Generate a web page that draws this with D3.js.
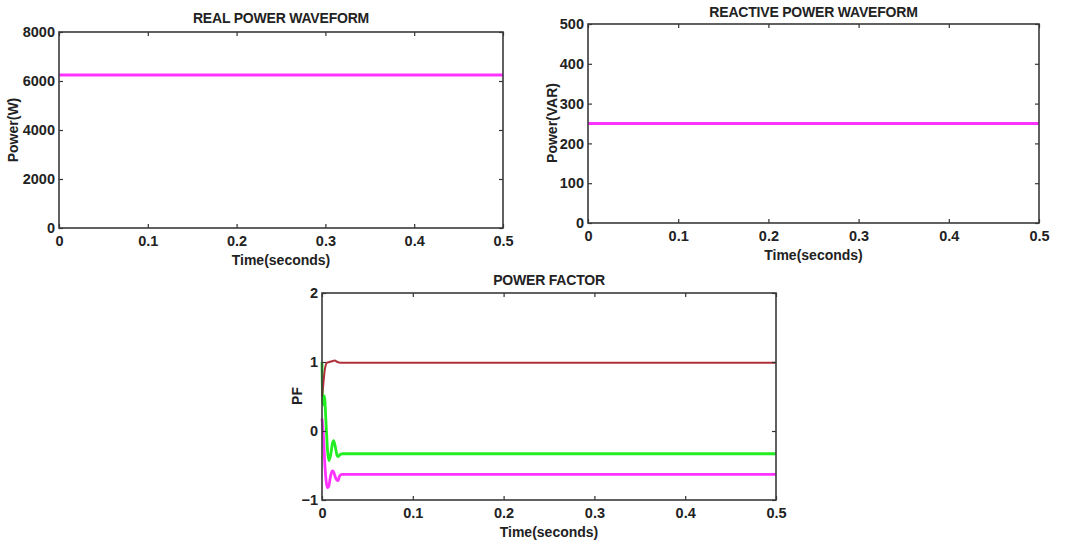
<!DOCTYPE html>
<html>
<head>
  <meta charset="utf-8">
  <title>Power waveforms</title>
  <style>
    body { margin: 0; background: #fff; }
    svg text { font-family: "Liberation Sans", Arial, sans-serif; font-weight: bold; fill: #222; }
  </style>
</head>
<body>
  <script src="https://d3js.org/d3.v7.min.js"></script>
  <script>
    // ---- data ----
    var realTime = [0, 0.5];
    var realPower = [6250, 6250];

    var reactiveTime = [0, 0.5];
    var reactivePower = [250, 250];

    // power factor traces (three phases)
    var pfRedTime = [0, 0.001, 0.003, 0.0055, 0.008, 0.011, 0.014, 0.017, 0.02, 0.5];
    var pfRed = [0.5, 0.62, 0.88, 0.99, 1.0, 1.01, 1.02, 1.0, 0.99, 0.99];

    var pfGreenTime = [0, 0.0006, 0.0015, 0.0026, 0.0045, 0.0062, 0.0075, 0.0095, 0.0115, 0.0128, 0.0145, 0.0165, 0.0178, 0.02, 0.023, 0.5];
    var pfGreen = [1.0, 0.5, 0.38, 0.51, 0.1, -0.3, -0.43, -0.35, -0.18, -0.14, -0.22, -0.35, -0.37, -0.34, -0.33, -0.33];

    var pfMagentaTime = [0, 0.0015, 0.003, 0.0048, 0.0062, 0.0078, 0.0095, 0.0114, 0.013, 0.015, 0.0176, 0.0195, 0.022, 0.5];
    var pfMagenta = [0.18, -0.05, -0.45, -0.75, -0.82, -0.78, -0.65, -0.58, -0.6, -0.68, -0.72, -0.65, -0.63, -0.63];

    var timeTicks = [0, 0.1, 0.2, 0.3, 0.4, 0.5];
    var realTicks = [0, 2000, 4000, 6000, 8000];
    var reactiveTicks = [0, 100, 200, 300, 400, 500];
    var pfTicks = [-1, 0, 1, 2];

    var svg = d3.select("body").append("svg")
        .attr("width", 1074)
        .attr("height", 546);

    function drawPanel(opt) {
      var x = d3.scaleLinear().domain([0, 0.5]).range([opt.x0, opt.x1]);
      var y = d3.scaleLinear().domain(opt.yDomain).range([opt.y1, opt.y0]);
      var g = svg.append("g");

      // series
      opt.series.forEach(function(s) {
        var pts = s.t.map((t, i) => [t, s.v[i]]);
        var line = d3.line().x(d => x(d[0])).y(d => y(d[1]));
        if (s.smooth) line.curve(d3.curveMonotoneX);
        g.append("path")
            .datum(pts)
            .attr("d", line)
            .attr("fill", "none")
            .attr("stroke", s.color)
            .attr("stroke-width", s.width)
            .attr("stroke-linejoin", "round");
      });

      // axes, MATLAB style: ticks inward on all four sides
      var tl = 4;
      g.append("g").attr("transform", "translate(0," + opt.y1 + ")")
          .call(d3.axisBottom(x).tickValues(timeTicks).tickSizeInner(-tl).tickSizeOuter(0).tickPadding(8).tickFormat(d3.format("")))
          .call(a => a.select(".domain").remove());
      g.append("g").attr("transform", "translate(0," + opt.y0 + ")")
          .call(d3.axisTop(x).tickValues(timeTicks).tickSizeInner(-tl).tickSizeOuter(0).tickFormat(""))
          .call(a => a.select(".domain").remove());
      g.append("g").attr("transform", "translate(" + opt.x0 + ",0)")
          .call(d3.axisLeft(y).tickValues(opt.yTicks).tickSizeInner(-tl).tickSizeOuter(0).tickPadding(4).tickFormat(d3.format("")))
          .call(a => a.select(".domain").remove());
      g.append("g").attr("transform", "translate(" + opt.x1 + ",0)")
          .call(d3.axisRight(y).tickValues(opt.yTicks).tickSizeInner(-tl).tickSizeOuter(0).tickFormat(""))
          .call(a => a.select(".domain").remove());

      g.selectAll(".tick line").attr("stroke", "#333").attr("stroke-width", 1.2);
      g.selectAll(".tick text").style("font-size", "14.5px").attr("fill", "#222");

      // frame
      g.append("rect")
          .attr("x", opt.x0).attr("y", opt.y0)
          .attr("width", opt.x1 - opt.x0).attr("height", opt.y1 - opt.y0)
          .attr("fill", "none")
          .attr("stroke", "#3a3a3a")
          .attr("stroke-width", 1.6);

      // title
      g.append("text")
          .attr("x", (opt.x0 + opt.x1) / 2)
          .attr("y", opt.y0 - opt.titleGap)
          .attr("text-anchor", "middle")
          .style("font-size", "14px")
          .style("letter-spacing", "-0.2px")
          .text(opt.title);

      // x label
      g.append("text")
          .attr("x", (opt.x0 + opt.x1) / 2)
          .attr("y", opt.y1 + 37)
          .attr("text-anchor", "middle")
          .style("font-size", "14px")
          .text("Time(seconds)");

      // y label
      g.append("text")
          .attr("transform", "translate(" + opt.yLabelX + "," + opt.yLabelY + ") rotate(-90)")
          .attr("text-anchor", "middle")
          .style("font-size", "14px")
          .text(opt.yLabel);
    }

    drawPanel({
      x0: 59, x1: 503, y0: 32, y1: 228, titleGap: 9,
      yDomain: [0, 8000], yTicks: realTicks,
      title: "REAL POWER WAVEFORM", yLabel: "Power(W)",
      yLabelX: 18, yLabelY: 130,
      series: [{ t: realTime, v: realPower, color: "#ff33ff", width: 3 }]
    });

    drawPanel({
      x0: 588, x1: 1039, y0: 24, y1: 223, titleGap: 7,
      yDomain: [0, 500], yTicks: reactiveTicks,
      title: "REACTIVE POWER WAVEFORM", yLabel: "Power(VAR)",
      yLabelX: 557, yLabelY: 123,
      series: [{ t: reactiveTime, v: reactivePower, color: "#ff33ff", width: 3 }]
    });

    drawPanel({
      x0: 322, x1: 776, y0: 293, y1: 500, titleGap: 8,
      yDomain: [-1, 2], yTicks: pfTicks,
      title: "POWER FACTOR", yLabel: "PF",
      yLabelX: 302, yLabelY: 396,
      series: [
        { t: pfMagentaTime, v: pfMagenta, color: "#ff33ff", width: 2.8, smooth: true },
        { t: pfGreenTime, v: pfGreen, color: "#22ee22", width: 2.8, smooth: true },
        { t: pfRedTime, v: pfRed, color: "#b0303a", width: 2, smooth: true }
      ]
    });
  </script>
</body>
</html>
